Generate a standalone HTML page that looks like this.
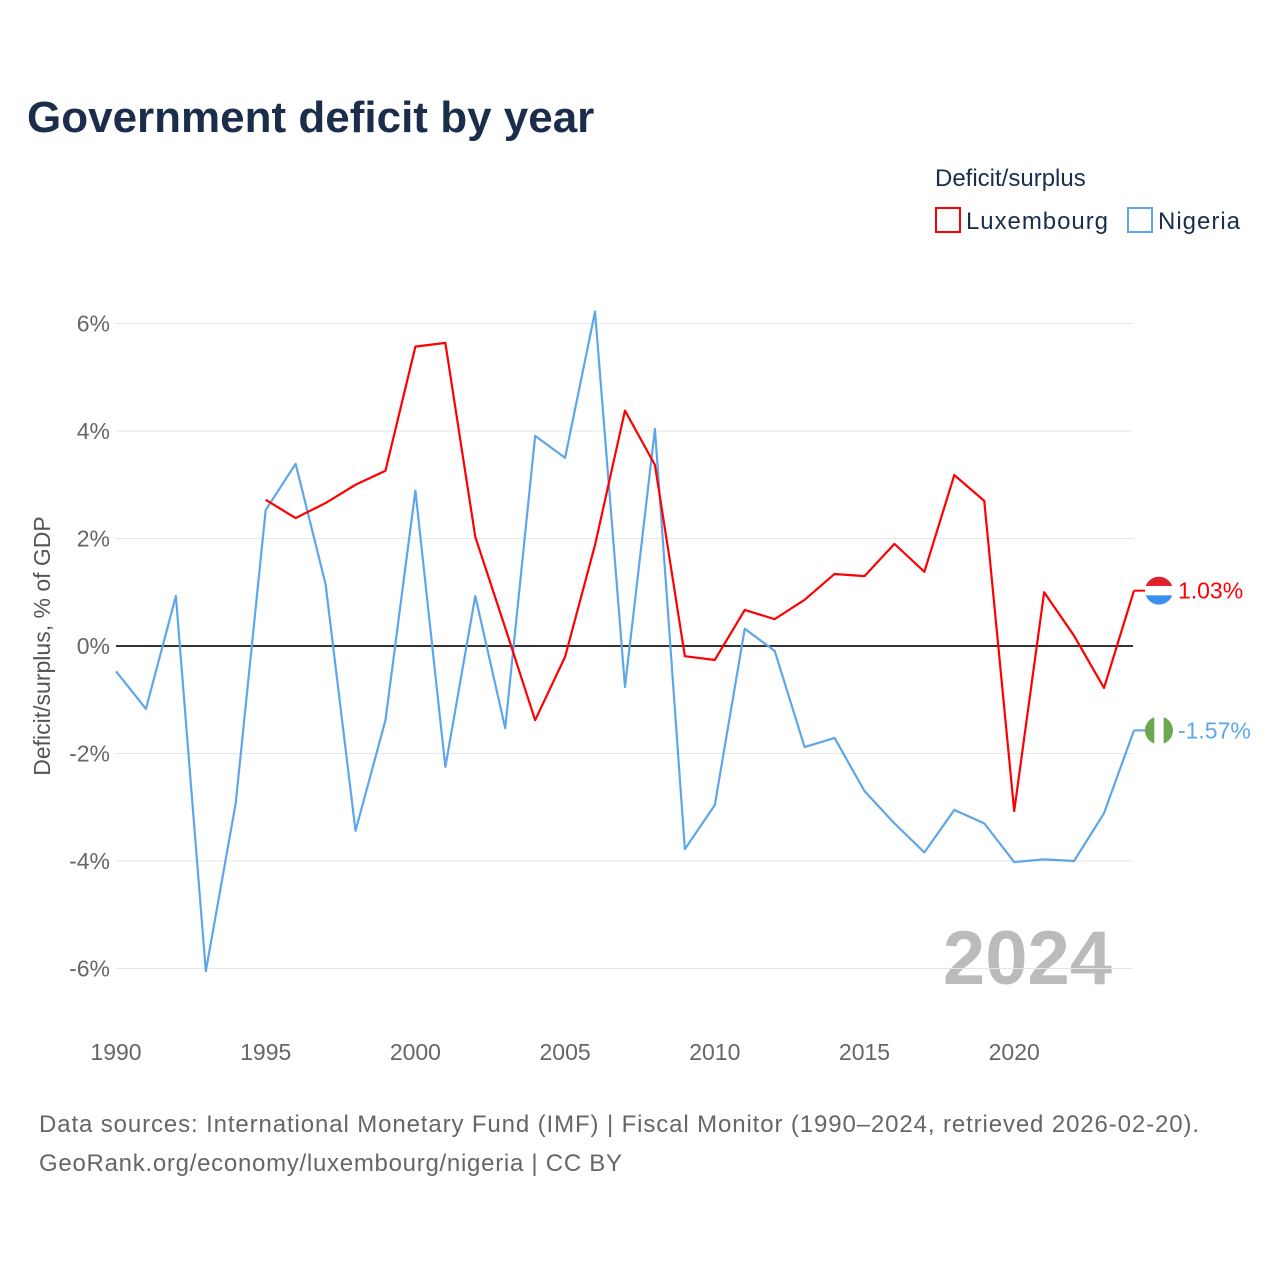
<!DOCTYPE html>
<html><head><meta charset="utf-8"><style>
body{margin:0;background:#fff;font-family:"Liberation Sans",sans-serif}
svg text{font-family:"Liberation Sans",sans-serif}
</style></head><body>
<svg id="chart" width="1280" height="1280" xmlns="http://www.w3.org/2000/svg">
<text x="27" y="132" font-size="44" font-weight="bold" fill="#1a2e4c">Government deficit by year</text>
<text x="935" y="186" font-size="24" fill="#1a2e4c">Deficit/surplus</text>
<g><rect x="936" y="208" width="24" height="24" fill="none" stroke="#f00" stroke-width="2"/><text x="966" y="229" font-size="24" fill="#1a2e4c" textLength="142">Luxembourg</text></g>
<g><rect x="1128" y="208" width="24" height="24" fill="none" stroke="#5ea6ea" stroke-width="2"/><text x="1158" y="229" font-size="24" fill="#1a2e4c" textLength="82">Nigeria</text></g>
<text transform="translate(50,646) rotate(-90)" text-anchor="middle" font-size="23" fill="#555">Deficit/surplus, % of GDP</text>
<text x="1112" y="984" text-anchor="end" font-size="76" font-weight="bold" fill="#bbb">2024</text>
<g id="grid"></g><g id="series"></g>
<text x="39" y="1132" font-size="24" fill="#666" textLength="1160">Data sources: International Monetary Fund (IMF) | Fiscal Monitor (1990–2024, retrieved 2026-02-20).</text>
<text x="39" y="1171" font-size="24" fill="#666" textLength="583">GeoRank.org/economy/luxembourg/nigeria | CC BY</text>
</svg>
<script>
const yTicks=[6,4,2,0,-2,-4,-6];
const xTicks=[1990,1995,2000,2005,2010,2015,2020];
const nigYears=[1990,1991,1992,1993,1994,1995,1996,1997,1998,1999,2000,2001,2002,2003,2004,2005,2006,2007,2008,2009,2010,2011,2012,2013,2014,2015,2016,2017,2018,2019,2020,2021,2022,2023,2024];
const nigeria=[-0.47,-1.17,0.93,-6.05,-2.92,2.53,3.39,1.15,-3.44,-1.38,2.89,-2.25,0.93,-1.53,3.91,3.5,6.22,-0.76,4.04,-3.78,-2.96,0.32,-0.09,-1.88,-1.71,-2.7,-3.3,-3.84,-3.05,-3.3,-4.02,-3.97,-4.0,-3.11,-1.57];
const luxYears=[1995,1996,1997,1998,1999,2000,2001,2002,2003,2004,2005,2006,2007,2008,2009,2010,2011,2012,2013,2014,2015,2016,2017,2018,2019,2020,2021,2022,2023,2024];
const luxembourg=[2.72,2.38,2.66,3.0,3.26,5.57,5.64,2.03,0.34,-1.38,-0.2,1.88,4.38,3.37,-0.19,-0.26,0.67,0.5,0.86,1.34,1.3,1.9,1.38,3.18,2.7,-3.07,1.0,0.19,-0.78,1.03];
const X=y=>116+(y-1990)*29.94;
const Y=v=>646-v*53.75;
const NS="http://www.w3.org/2000/svg";
function mk(t,a,p){const e=document.createElementNS(NS,t);for(const k in a)e.setAttribute(k,a[k]);p.appendChild(e);return e;}
const g=document.getElementById('grid'),s=document.getElementById('series');
yTicks.forEach(v=>{
 const l=mk('line',{x1:116,x2:1133,y1:Y(v),y2:Y(v),stroke:v===0?'#333':'#e6e6e6','stroke-width':v===0?2:1},g);
 
 
 const t=mk('text',{x:110,y:Y(v)+8,'text-anchor':'end','font-size':23,fill:'#666'},g);
 t.textContent=v+'%';
 
 
});
xTicks.forEach(v=>{
 const t=mk('text',{x:X(v),y:1060,'text-anchor':'middle','font-size':23,fill:'#666'},g);
 t.textContent=v;
 
 
});
function line(years,vals,color,name){
 const p=mk('polyline',{points:years.map((y,i)=>X(y)+','+Y(vals[i])).join(' '),fill:'none',stroke:color,'stroke-width':2.2,'stroke-linejoin':'round'},s);
 
 
}
line(nigYears,nigeria,'#5ea6ea','nigeria-line');
line(luxYears,luxembourg,'#f00','luxembourg-line');
function endLabel(years,vals,color,stripes,name){
 const v=vals[vals.length-1],x=X(years[years.length-1]),y=Y(v);
 mk('line',{x1:x,x2:x+12,y1:y,y2:y,stroke:color,'stroke-width':2},s);
 const cx=x+25;
 const cp=mk('clipPath',{id:'c'+name},s);mk('circle',{cx:cx,cy:y,r:14},cp);
 const fg=mk('g',{'clip-path':'url(#c'+name+')'},s);
 
 
 stripes.forEach((c,i)=>{
  if(stripes.vertical) mk('rect',{x:cx-14+i*28/3,y:y-14,width:28/3+0.5,height:28,fill:c},fg);
  else mk('rect',{x:cx-14,y:y-14+i*28/3,width:28,height:28/3+0.5,fill:c},fg);
 });
 const t=mk('text',{x:cx+19,y:y+8,'font-size':23,fill:color},s);
 t.textContent=v.toFixed(2)+'%';
 
 
}
endLabel(luxYears,luxembourg,'#f00',['#e0202c','#fff','#3a8ff0'],'luxembourg');
const ng=['#6aa84f','#fff','#6aa84f'];ng.vertical=true;
endLabel(nigYears,nigeria,'#5ea6ea',ng,'nigeria');
</script>
</body></html>
